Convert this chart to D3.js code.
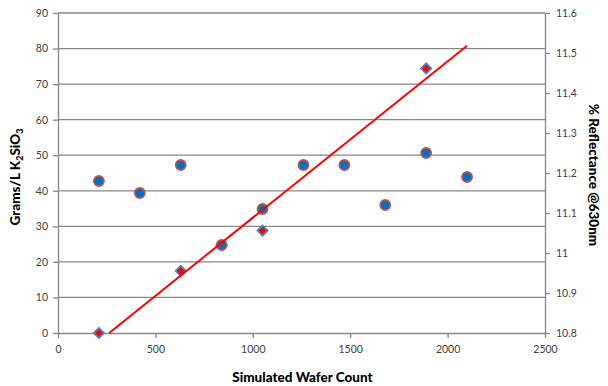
<!DOCTYPE html>
<html>
<head>
<meta charset="utf-8">
<script src="https://cdn.jsdelivr.net/npm/d3@7"></script>
<style>
  body { margin: 0; background: #fff; }
  svg text { font-family: Lato, "Open Sans", sans-serif; }
</style>
</head>
<body>
<div id="chart"></div>
<script>
// wafer counts shared by both series
var waferCounts = [210, 420, 630, 840, 1050, 1260, 1470, 1680, 1890, 2100];
// % reflectance @630nm (right axis), circles
var reflectance = [11.18, 11.15, 11.22, 11.02, 11.11, 11.22, 11.22, 11.12, 11.25, 11.19];
// grams/L K2SiO3 (left axis), diamonds
var gramsX = [210, 630, 840, 1050, 1890];
var grams = [0, 17.5, 24.7, 28.8, 74.4];

var xTicks = [0, 500, 1000, 1500, 2000, 2500];
var leftTicks = [0, 10, 20, 30, 40, 50, 60, 70, 80, 90];
var rightTicks = [10.8, 10.9, 11, 11.1, 11.2, 11.3, 11.4, 11.5, 11.6];

var W = 608, H = 386;
var m = {left: 58, right: 63, top: 13, bottom: 53};

var svg = d3.select("#chart").append("svg")
  .attr("width", W).attr("height", H);

var x = d3.scaleLinear().domain([0, 2500]).range([m.left, W - m.right]);
var yL = d3.scaleLinear().domain([0, 90]).range([H - m.bottom, m.top]);
var yR = d3.scaleLinear().domain([10.8, 11.6]).range([H - m.bottom, m.top]);

var gridCol = "#878787", txtCol = "#404040";

// gridlines
svg.append("g").selectAll("line").data(leftTicks.slice(1)).enter().append("line")
  .attr("x1", m.left).attr("x2", W - m.right)
  .attr("y1", function(d){ return yL(d); }).attr("y2", function(d){ return yL(d); })
  .attr("stroke", gridCol).attr("stroke-width", 1.3);

function styleAxis(g){
  g.selectAll("path,line").attr("stroke", gridCol).attr("stroke-width", 1.3);
  g.selectAll("text").attr("fill", txtCol).style("font-size", "10.5px");
}

svg.append("g").attr("transform", "translate(0," + (H - m.bottom) + ")")
  .call(d3.axisBottom(x).tickValues(xTicks).tickFormat(d3.format("d")).tickSize(5).tickSizeOuter(0).tickPadding(8))
  .call(styleAxis);

svg.append("g").attr("transform", "translate(" + m.left + ",0)")
  .call(d3.axisLeft(yL).tickValues(leftTicks).tickSize(5).tickSizeOuter(0).tickPadding(5))
  .call(styleAxis);

svg.append("g").attr("transform", "translate(" + (W - m.right) + ",0)")
  .call(d3.axisRight(yR).tickValues(rightTicks).tickFormat(d3.format("~g")).tickSize(5).tickSizeOuter(0).tickPadding(6))
  .call(styleAxis);

// diamonds (square turned 45 degrees)
var diamond = d3.symbol().type(d3.symbolSquare).size(52);
svg.append("g").selectAll("path").data(gramsX).enter().append("path")
  .attr("d", diamond)
  .attr("transform", function(d, i){ return "translate(" + x(d) + "," + yL(grams[i]) + ") rotate(45)"; })
  .attr("fill", "#ff0000").attr("stroke", "#4f81bd").attr("stroke-width", 1.8);

// circles
svg.append("g").selectAll("circle").data(waferCounts).enter().append("circle")
  .attr("cx", function(d){ return x(d); })
  .attr("cy", function(d, i){ return yR(reflectance[i]); })
  .attr("r", 5)
  .attr("fill", "#0070c0").attr("stroke", "#c0504d").attr("stroke-width", 1.8);

// linear trendline for grams, clipped at 0
var mx = d3.mean(gramsX), my = d3.mean(grams);
var sxy = d3.sum(gramsX, function(d, i){ return (d - mx) * (grams[i] - my); });
var sxx = d3.sum(gramsX, function(d){ return (d - mx) * (d - mx); });
var slope = sxy / sxx, icpt = my - slope * mx;
var x0 = Math.max(d3.min(waferCounts), -icpt / slope), x1 = d3.max(waferCounts);
svg.append("line")
  .attr("x1", x(x0)).attr("y1", yL(slope * x0 + icpt))
  .attr("x2", x(x1)).attr("y2", yL(slope * x1 + icpt))
  .attr("stroke", "#ff0000").attr("stroke-width", 2);

// axis titles
var lt = svg.append("text")
  .attr("transform", "translate(20," + ((m.top + H - m.bottom) / 2 + 4) + ") rotate(-90)")
  .attr("text-anchor", "middle").attr("font-weight", "900").style("font-size", "13.5px").attr("fill", "#000");
lt.append("tspan").text("Grams/L K");
lt.append("tspan").text("2").attr("dy", 3).style("font-size", "9px");
lt.append("tspan").text("SiO").attr("dy", -3);
lt.append("tspan").text("3").attr("dy", 3).style("font-size", "9px");

svg.append("text")
  .attr("transform", "translate(589," + ((m.top + H - m.bottom) / 2 + 2) + ") rotate(90)")
  .attr("text-anchor", "middle").attr("font-weight", "900").style("font-size", "13.5px")
  .text("% Reflectance @630nm");

svg.append("text")
  .attr("x", (m.left + W - m.right) / 2 + 1).attr("y", 382)
  .attr("text-anchor", "middle").attr("font-weight", "900").style("font-size", "13.5px")
  .text("Simulated Wafer Count");
</script>
</body>
</html>
